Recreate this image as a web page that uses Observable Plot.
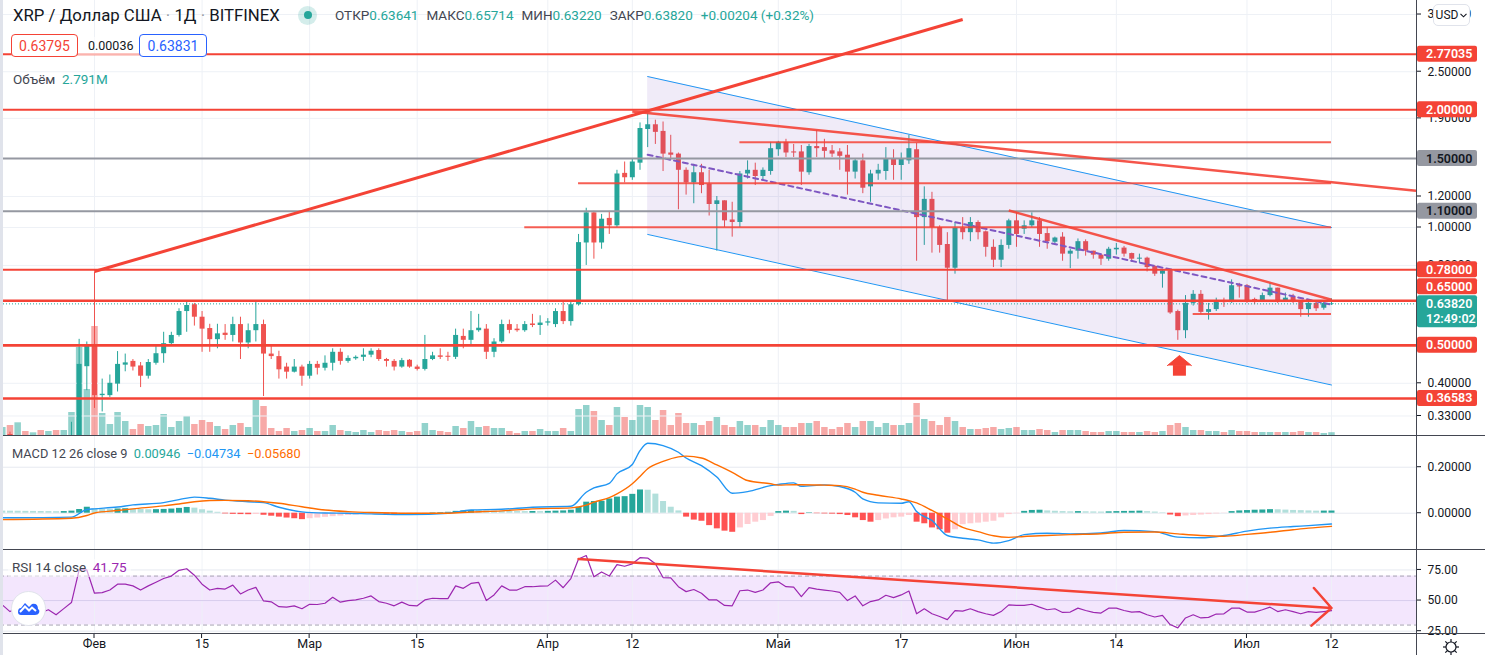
<!DOCTYPE html>
<html><head><meta charset="utf-8">
<script src="https://cdn.jsdelivr.net/npm/d3@7"></script>
<script src="https://cdn.jsdelivr.net/npm/@observablehq/plot@0.6"></script>
<style>
html,body{margin:0;padding:0;background:#fff;overflow:hidden;}
#root{position:relative;width:1485px;height:655px;font-family:Roboto,"Noto Sans",sans-serif;color:#131722;}
.layer{position:absolute;left:0;}
.t{position:absolute;white-space:nowrap;line-height:1;}
.k{color:#434651;}
.v{color:#26a69a;margin-right:8px;}
.sep{color:#9598a1;}
.ln{position:absolute;background:#434651;}
</style></head><body><div id="root"></div>
<script>
// ---------------- DATA ----------------
const firstDay = "2021-01-20", lastDay = "2021-07-12";
const open = [
0.275,0.296,0.262,0.275,0.270,0.276,0.268,0.271,0.256,0.270,0.285,0.441,
0.497,0.372,0.372,0.398,0.445,0.455,0.443,0.417,0.450,0.476,0.505,0.530,0.610,0.635,0.590,0.552,0.517,0.537,0.530,0.565,0.507,0.545,0.565,0.475,0.468,0.440,0.427,0.440,
0.417,0.447,0.437,0.450,0.480,0.455,0.462,0.466,0.472,0.485,0.460,0.455,0.440,0.458,0.440,0.434,0.460,0.470,0.469,0.466,0.527,0.515,0.545,0.550,0.480,0.510,0.565,0.550,0.545,0.567,0.562,
0.570,0.565,0.610,0.575,0.635,0.913,1.090,0.913,1.055,1.010,1.375,1.340,1.460,1.780,1.830,1.760,1.550,1.540,1.400,1.300,1.380,1.290,1.145,1.170,1.045,1.030,1.370,1.400,1.350,1.390,
1.580,1.650,1.560,1.560,1.380,1.610,1.600,1.570,1.560,1.530,1.385,1.480,1.270,1.370,1.390,1.500,1.440,1.480,1.580,1.060,1.180,1.000,0.905,0.787,0.996,0.970,1.030,0.975,0.890,0.825,0.900,
1.040,0.990,1.010,1.040,0.965,0.917,0.945,0.855,0.870,0.920,0.870,0.850,0.830,0.877,0.886,0.858,0.830,0.835,0.795,0.760,0.775,0.610,0.545,0.640,0.675,0.607,0.617,0.650,0.643,0.710,
0.710,0.655,0.650,0.670,0.700,0.650,0.665,0.645,0.617,0.640,0.622,0.63641];
const high = [
0.285,0.300,0.280,0.281,0.280,0.285,0.276,0.275,0.275,0.318,0.518,0.510,
0.770,0.410,0.420,0.482,0.475,0.460,0.452,0.460,0.500,0.540,0.540,0.620,0.645,0.640,0.610,0.566,0.566,0.565,0.590,0.590,0.567,0.645,0.580,0.500,0.483,0.450,0.460,0.445,
0.455,0.455,0.470,0.490,0.490,0.470,0.470,0.490,0.490,0.490,0.463,0.460,0.463,0.460,0.445,0.530,0.480,0.490,0.480,0.550,0.550,0.610,0.600,0.565,0.520,0.580,0.580,0.565,0.575,0.600,0.595,
0.585,0.620,0.645,0.645,0.960,1.120,1.100,1.080,1.100,1.400,1.470,1.500,1.850,1.960,1.880,1.860,1.720,1.550,1.420,1.450,1.450,1.400,1.200,1.170,1.160,1.390,1.480,1.460,1.420,1.650,
1.660,1.680,1.630,1.620,1.630,1.770,1.680,1.620,1.590,1.620,1.500,1.540,1.400,1.450,1.600,1.580,1.550,1.720,1.640,1.270,1.230,1.010,0.970,1.030,1.060,1.060,1.040,0.980,0.930,0.930,1.050,
1.100,1.040,1.090,1.060,1.000,0.945,0.970,0.880,0.935,0.930,0.870,0.855,0.890,0.910,0.895,0.860,0.855,0.840,0.800,0.780,0.780,0.615,0.670,0.690,0.690,0.640,0.660,0.660,0.735,0.720,
0.715,0.660,0.680,0.720,0.700,0.680,0.675,0.650,0.645,0.645,0.645,0.65714];
const low = [
0.265,0.250,0.245,0.265,0.265,0.265,0.260,0.250,0.250,0.265,0.280,0.383,
0.345,0.338,0.368,0.380,0.428,0.430,0.390,0.410,0.445,0.450,0.500,0.525,0.540,0.560,0.480,0.480,0.490,0.515,0.510,0.460,0.490,0.510,0.370,0.460,0.410,0.410,0.425,0.393,
0.410,0.420,0.430,0.430,0.445,0.450,0.458,0.455,0.465,0.455,0.440,0.430,0.437,0.437,0.430,0.430,0.457,0.460,0.455,0.460,0.490,0.500,0.540,0.460,0.465,0.505,0.535,0.540,0.540,0.555,0.530,
0.560,0.555,0.565,0.560,0.630,0.800,0.830,0.880,0.960,1.000,1.300,1.320,1.400,1.600,1.630,1.390,1.490,1.110,1.210,1.150,1.220,1.070,0.870,1.000,0.945,1.000,1.330,1.280,1.320,1.360,
1.520,1.510,1.510,1.280,1.360,1.510,1.500,1.510,1.400,1.210,1.330,1.220,1.160,1.320,1.320,1.320,1.320,1.450,0.820,0.900,0.860,0.860,0.650,0.760,0.930,0.920,0.930,0.840,0.790,0.790,0.880,
0.890,0.960,1.000,0.890,0.880,0.905,0.820,0.785,0.830,0.845,0.830,0.800,0.820,0.850,0.840,0.815,0.810,0.770,0.750,0.700,0.600,0.515,0.520,0.630,0.600,0.580,0.610,0.625,0.640,0.660,
0.640,0.635,0.645,0.665,0.640,0.645,0.640,0.590,0.590,0.610,0.615,0.63220];
const close = [
0.276,0.262,0.275,0.270,0.276,0.268,0.271,0.256,0.270,0.285,0.447,0.497,
0.372,0.375,0.400,0.447,0.451,0.440,0.417,0.452,0.476,0.505,0.530,0.610,0.632,0.590,0.550,0.517,0.535,0.530,0.565,0.507,0.545,0.565,0.475,0.468,0.433,0.427,0.440,0.417,
0.447,0.437,0.450,0.480,0.455,0.463,0.466,0.472,0.483,0.460,0.455,0.440,0.457,0.440,0.434,0.460,0.470,0.466,0.466,0.530,0.515,0.545,0.553,0.480,0.510,0.565,0.546,0.545,0.565,0.562,0.570,
0.574,0.610,0.575,0.635,0.915,1.090,0.913,1.050,1.010,1.370,1.340,1.470,1.790,1.830,1.750,1.540,1.530,1.400,1.300,1.380,1.280,1.145,1.170,1.040,1.030,1.370,1.400,1.350,1.400,1.590,
1.650,1.550,1.550,1.385,1.610,1.590,1.565,1.540,1.520,1.385,1.480,1.260,1.370,1.400,1.500,1.440,1.500,1.590,1.060,1.180,1.000,0.900,0.787,0.996,0.970,1.030,0.970,0.890,0.825,0.900,1.040,
0.960,1.010,1.040,0.960,0.920,0.940,0.855,0.870,0.920,0.870,0.850,0.830,0.880,0.885,0.855,0.830,0.835,0.790,0.760,0.775,0.605,0.545,0.640,0.675,0.607,0.617,0.645,0.643,0.710,0.705,
0.647,0.650,0.670,0.700,0.647,0.660,0.645,0.617,0.640,0.620,0.640,0.63820];
// volume, millions
const volume = [
8,10,12.7,4,2.7,5,4,5,5,23,88,46,
109,22,11,23,14,6,11,9,10,21,8,14,19,11,15,13,9,6,10,12,8,35,29,7,4,7,4,5,
7,4,4,10,5,4,3,5,3,5,4,5,4,3,4,12,5,4,3,9,7,14,8,9,7,7,4,2,4,4,6,
4,4,7,4,26,30,24,15,10,28,18,15,30,28,15,25,10,22,12,12,10,14,18,10,8,14,10,10,8,15,
10,8,8,12,12,14,8,6,8,12,8,14,14,8,12,10,10,12,32,16,14,10,18,14,8,6,6,7,8,6,7,
8,5,5,6,5,3,5,5,5,4,3,3,4,4,3,3,3,4,3,4,10,12,8,5,5,4,4,3,5,4,
4,3,3,3,3,3,3,4,3,3,2,2.791];
const rsi = [
46.5,41,44,44,43,40,42.5,38.4,43.4,48.4,75,75,
56,56.5,58.6,63.4,63.4,62,58.6,62,65,68,70,74.7,76,70.7,63.4,58.6,60,59.4,62.6,55.4,58.6,60.8,49.7,49,45,44.6,45.7,43.3,
47,46.8,47.8,52.7,48.7,50,50.5,51.9,53.8,49.2,47.8,45.7,48.7,46,45.7,50.5,51.9,51.6,51.6,62,60,64,64.8,50,54.6,62,58.6,58.6,61.3,61.3,61.8,
62,66.7,60.5,68,84,86.8,69.4,73.4,70,79.3,78,80,85,84.7,80,68.8,68.5,61.3,57.3,59,56,50.5,50.5,46,45.7,58,58.6,56.7,58.6,64.5,
65.3,61.3,61,53.2,60.5,59.4,58.6,57.8,56.7,50,53.8,45.7,49.2,50.5,54.3,52.4,54.6,57.8,39.2,43.3,39.2,37,34.4,41.7,41.4,43.3,41,39.2,37.9,41,46.5,
46,46,47,44.6,42.5,43.3,40.3,40.6,43.8,41.9,40.3,39.8,43.8,43.8,41.9,40.6,41,38.4,36.6,37.9,30.4,27.7,35.8,38.4,35.8,36.3,39,39.2,43.8,43.8,
40.6,40.6,42.5,44.6,41,42.5,41,39.2,41,40.3,41,41.75];
const macdHist = [
0.0090,0.0088,0.0085,0.0080,0.0077,0.0073,0.0070,0.0065,0.0072,0.0090,0.0160,0.0260,
0.0190,0.0175,0.0165,0.0185,0.0195,0.0175,0.0160,0.0150,0.0155,0.0165,0.0180,0.0210,0.0250,0.0220,0.0150,0.0090,0.0040,-0.0030,-0.0050,-0.0060,-0.0065,-0.0055,-0.0090,-0.0130,-0.0170,-0.0210,-0.0240,-0.0280,
-0.0240,-0.0210,-0.0180,-0.0150,-0.0125,-0.0100,-0.0080,-0.0060,-0.0050,-0.0045,-0.0050,-0.0060,-0.0050,-0.0045,-0.0035,-0.0010,0.0020,0.0030,0.0040,0.0080,0.0100,0.0120,0.0115,0.0095,0.0085,0.0080,0.0078,0.0072,0.0070,0.0075,0.0070,
0.0080,0.0090,0.0100,0.0130,0.0260,0.0480,0.0510,0.0520,0.0620,0.0700,0.0720,0.0820,0.1010,0.1000,0.0830,0.0510,0.0260,0.0100,-0.0170,-0.0300,-0.0350,-0.0540,-0.0680,-0.0780,-0.0830,-0.0640,-0.0490,-0.0390,-0.0320,-0.0140,
0.0070,0.0090,0.0080,-0.0060,0.0020,-0.0020,-0.0030,-0.0040,-0.0060,-0.0100,-0.0200,-0.0320,-0.0390,-0.0320,-0.0250,-0.0200,-0.0170,-0.0100,-0.0390,-0.0460,-0.0640,-0.0720,-0.0870,-0.0720,-0.0500,-0.0460,-0.0430,-0.0390,-0.0350,-0.0200,-0.0060,
-0.0020,0.0080,0.0120,0.0130,0.0100,0.0085,0.0070,0.0060,0.0070,0.0062,0.0055,0.0050,0.0060,0.0070,0.0078,0.0082,0.0090,0.0070,0.0050,0.0020,-0.0080,-0.0150,-0.0120,-0.0100,-0.0080,-0.0060,-0.0030,-0.0010,0.0070,0.0100,
0.0115,0.0130,0.0140,0.0155,0.0150,0.0135,0.0120,0.0112,0.0100,0.0090,0.0092,0.00946];
const macdDates = ["2021-01-20","2021-01-29","2021-01-31","2021-02-01","2021-02-04","2021-02-06","2021-02-10","2021-02-12","2021-02-14","2021-02-16","2021-02-18","2021-02-21","2021-02-23","2021-02-25","2021-02-28","2021-03-03","2021-03-06","2021-03-09","2021-03-14","2021-03-19","2021-03-22","2021-03-26","2021-03-30","2021-04-04","2021-04-06","2021-04-07","2021-04-09","2021-04-10","2021-04-12","2021-04-13","2021-04-14","2021-04-16","2021-04-18","2021-04-19","2021-04-21","2021-04-23","2021-04-25","2021-04-27","2021-04-30","2021-05-01","2021-05-03","2021-05-04","2021-05-07","2021-05-09","2021-05-11","2021-05-12","2021-05-14","2021-05-17","2021-05-18","2021-05-19","2021-05-21","2021-05-23","2021-05-25","2021-05-27","2021-05-29","2021-05-31","2021-06-02","2021-06-05","2021-06-08","2021-06-12","2021-06-15","2021-06-19","2021-06-22","2021-06-25","2021-06-28","2021-07-01","2021-07-04","2021-07-07","2021-07-09","2021-07-12"];
const macdLine = [-0.020,-0.017,0.016,0.019,0.027,0.036,0.046,0.059,0.070,0.065,0.057,0.050,0.046,0.026,0.006,0.001,0.000,-0.003,-0.006,0.000,0.014,0.017,0.026,0.030,0.091,0.110,0.130,0.171,0.212,0.272,0.304,0.294,0.265,0.240,0.207,0.157,0.087,0.094,0.120,0.125,0.132,0.117,0.123,0.116,0.091,0.062,0.045,0.043,0.050,0.007,-0.032,-0.097,-0.109,-0.116,-0.130,-0.119,-0.093,-0.087,-0.090,-0.086,-0.075,-0.080,-0.104,-0.107,-0.097,-0.078,-0.065,-0.058,-0.054,-0.047];
const signalLine = [-0.028,-0.022,-0.010,0.001,0.012,0.019,0.032,0.040,0.050,0.055,0.056,0.054,0.050,0.043,0.028,0.014,0.007,0.003,0.000,0.000,0.005,0.010,0.019,0.023,0.035,0.048,0.068,0.084,0.128,0.160,0.193,0.225,0.245,0.248,0.240,0.210,0.178,0.142,0.128,0.122,0.124,0.124,0.122,0.120,0.105,0.091,0.078,0.062,0.055,0.045,0.012,-0.025,-0.062,-0.080,-0.098,-0.105,-0.101,-0.097,-0.093,-0.089,-0.083,-0.082,-0.090,-0.097,-0.100,-0.092,-0.083,-0.072,-0.065,-0.057];

// tick labels
const xTickDates = ["2021-02-01","2021-02-15","2021-03-01","2021-03-15","2021-04-01","2021-04-12","2021-05-01","2021-05-17","2021-06-01","2021-06-14","2021-07-01","2021-07-12"];
const xTickLabels = ["Фев","15","Мар","15","Апр","12","Май","17","Июн","14","Июл","12"];
const priceGrid = [3.5,2.5,1.9,1.5,1.2,1.0,0.8,0.65,0.5,0.4,0.33];
const priceTickLabels = [3.5,2.5,1.9,1.2,1.0,0.8,0.4,0.33];   // the rest sit under the level labels
const macdTicks = [0.2,0.0];
const rsiTicks = [75,50,25];

// drawings (in date / price units)
const redLevelsThin = [2.77035, 2.0, 0.78];
const redLevelsThick = [0.65, 0.5, 0.36583];
const grayLevels = [1.5, 1.1];
const segStart = ["2021-04-26","2021-04-05","2021-03-29","2021-06-24"];
const segEnd   = ["2021-07-12","2021-07-12","2021-07-12","2021-07-12"];
const segPrice = [1.65, 1.298, 1.002, 0.601];
const trendStart = ["2021-02-01","2021-04-12","2021-05-31"];
const trendEnd   = ["2021-05-25","2021-07-23","2021-07-12"];
const trendP1 = [0.772, 1.979, 1.105];
const trendP2 = [3.40, 1.241, 0.654];
const channelDates = ["2021-04-14","2021-07-12"];
const channelHi = [2.43, 1.0];
const channelLo = [0.96, 0.396];
const channelMid = [1.534, 0.635];
const arrowDate = "2021-06-22T05:00Z", arrowBase = 0.444, arrowFoot = 0.417;
const rsiTrendDates = ["2021-04-05","2021-07-12"], rsiTrendVals = [84, 43.9];
const lastPrice = 0.63820;

// ---------------- BUILD ----------------
const green="#26a69a", red="#ef5350", lineRed="#f44336", gridC="#eef1f6", txt="#131722";
const days = d3.utcDay.range(new Date(firstDay), d3.utcDay.offset(new Date(lastDay),1));
const candles = days.map((d,i)=>({date:d,o:open[i],h:high[i],l:low[i],c:close[i],v:volume[i]}));
const hist = days.map((d,i)=>{
  const v = macdHist[i], p = i>0 ? macdHist[i-1] : Infinity;
  const col = v>=0 ? (v>=p ? "#26a69a" : "#b2dfdb") : (v<p ? "#ff5252" : "#ffcdd2");
  return {date:d, v, col};
});
const macdData = macdDates.map((d,i)=>({date:new Date(d), m:macdLine[i], s:signalLine[i]}));
const rsiData = days.map((d,i)=>({date:d, r:rsi[i]}));
const xTicks = xTickDates.map((d,i)=>({date:new Date(d), label:xTickLabels[i]}));
const segs = segStart.map((d,i)=>({d1:new Date(d), d2:new Date(segEnd[i]), p:segPrice[i]}));
const trends = trendStart.map((d,i)=>({d1:new Date(d), d2:new Date(trendEnd[i]), p1:trendP1[i], p2:trendP2[i]}));
const channel = channelDates.map((d,i)=>({date:new Date(d), hi:channelHi[i], lo:channelLo[i], mid:channelMid[i]}));
const xDomain = [new Date(Date.UTC(2021,0,19,18,22)), new Date(Date.UTC(2021,6,23,4,41))];
const colorOf = d => d.c>=d.o ? green : red;
const band = [{a:xDomain[0], b:xDomain[1], lo:30, hi:70}];
const rsiTrend = [{d1:new Date(rsiTrendDates[0]), d2:new Date(rsiTrendDates[1]), v1:rsiTrendVals[0], v2:rsiTrendVals[1]}];
const arrowPt = [{date:new Date(arrowDate), base:arrowBase, foot:arrowFoot}];

const common = {width:1485, marginLeft:0, marginRight:68, color:{type:"identity"},
  style:{fontFamily:"Roboto, sans-serif", fontSize:"12px", background:"transparent", overflow:"hidden"}};
const xOpt = {type:"utc", domain:xDomain, axis:null};

function scaleFn(plot, name){
  const s = plot.scale(name);
  if (s && typeof s.apply === "function") return v=>s.apply(v);
  const ctor = s.type==="log"?d3.scaleLog:(s.type==="utc"?d3.scaleUtc:d3.scaleLinear);
  return ctor().domain(s.domain).range(s.range);
}
function rightTicks(plot, ticks){
  const y = scaleFn(plot,"y"); const g = d3.select(plot).append("g");
  ticks.forEach(t=>g.append("line").attr("x1",1417).attr("x2",1421).attr("y1",y(t)).attr("y2",y(t)).attr("stroke",txt));
  return g;
}
function labelBox(g, y, lines, bg, fg){
  const h = lines.length===1 ? 16 : 32;
  g.append("rect").attr("x",1417).attr("y",y-8).attr("width",60).attr("height",h).attr("rx",2).attr("fill",bg);
  lines.forEach((t,i)=>g.append("text").attr("x",1426).attr("y",y+i*15.5).attr("dy","0.36em").attr("text-anchor","start")
    .attr("fill",fg).attr("font-size",12.5).attr("font-weight",600).attr("font-family","Roboto, sans-serif").text(t));
}

const root = document.getElementById("root");
function place(el, top, z){ const w=document.createElement("div"); w.className="layer"; w.style.top=top+"px"; w.style.zIndex=z; w.appendChild(el); root.appendChild(w); return w; }

// volume layer
const volPlot = Plot.plot({...common, style:{...common.style, background:"#fff"}, height:436, marginTop:0, marginBottom:1,
  x:xOpt, y:{domain:[0,435], axis:null},
  marks:[
    Plot.ruleX(xTicks,{x:"date", stroke:gridC}),
    Plot.ruleX(candles,{x:"date", y1:0, y2:"v", stroke:colorOf, strokeOpacity:0.5, strokeWidth:6.5})
  ]});
place(volPlot,0,0);

// main price pane
let arrowHead;
try { arrowHead = Plot.vector(arrowPt, {x:"date", y:"base", length:10, r:12, shape:"spike", anchor:"start", fill:lineRed, stroke:lineRed, strokeWidth:1}); }
catch(e){ arrowHead = Plot.dot(arrowPt, {x:"date", y:"base", symbol:"triangle", r:7, fill:lineRed, dy:-4}); }
const mainMarks = [
  Plot.ruleY(priceGrid,{stroke:gridC}),
  Plot.ruleX(candles,{x:"date", y1:"l", y2:"h", stroke:colorOf, strokeWidth:1, clip:true}),
  Plot.ruleX(candles,{x:"date", y1:"o", y2:"c", stroke:colorOf, strokeWidth:5, clip:true}),
  Plot.areaY(channel,{x:"date", y1:"lo", y2:"hi", fill:"#673ab7", fillOpacity:0.1}),
  Plot.line(channel,{x:"date", y:"hi", stroke:"#2196f3", strokeWidth:1}),
  Plot.line(channel,{x:"date", y:"lo", stroke:"#2196f3", strokeWidth:1}),
  Plot.line(channel,{x:"date", y:"mid", stroke:"#7e57c2", strokeWidth:2, strokeDasharray:"5,4"}),
  Plot.ruleY(grayLevels,{stroke:"#9598a1", strokeWidth:2}),
  Plot.ruleY(redLevelsThin,{stroke:lineRed, strokeWidth:2}),
  Plot.ruleY(redLevelsThick,{stroke:lineRed, strokeWidth:2.6}),
  Plot.ruleY(segs,{y:"p", x1:"d1", x2:"d2", stroke:lineRed, strokeOpacity:0.85, strokeWidth:2}),
  Plot.link(trends.slice(0,1),{x1:"d1", x2:"d2", y1:"p1", y2:"p2", stroke:lineRed, strokeWidth:3}),
  Plot.link(trends.slice(1),{x1:"d1", x2:"d2", y1:"p1", y2:"p2", stroke:lineRed, strokeOpacity:0.9, strokeWidth:2.5}),
  Plot.ruleY([lastPrice],{stroke:green, strokeDasharray:"1,2", strokeWidth:1}),
  Plot.ruleX(arrowPt,{x:"date", y1:"foot", y2:"base", stroke:lineRed, strokeWidth:13}),
  arrowHead,
  Plot.text(priceTickLabels,{y:d=>d, text:d=>d.toFixed(5), frameAnchor:"right", textAnchor:"start", dx:10, fill:txt, fontSize:12})
];
const mainPlot = Plot.plot({...common, height:436, marginTop:0, marginBottom:0, x:xOpt,
  y:{type:"log", domain:[0.2925,3.801], axis:null}, marks:mainMarks});
place(mainPlot,0,1);
{
  const y = scaleFn(mainPlot,"y");
  const g = rightTicks(mainPlot, priceGrid);
  [2.77035,2.0,0.78,0.5,0.36583].forEach(p=>labelBox(g,y(p),[p.toFixed(5)],lineRed,"#fff"));
  labelBox(g,y(0.65)-14,["0.65000"],lineRed,"#fff");
  grayLevels.forEach(p=>labelBox(g,y(p),[p.toFixed(5)],"#9598a1",txt));
  labelBox(g,y(lastPrice),[lastPrice.toFixed(5),"12:49:02"],green,"#fff");
}

// MACD pane
const macdPlot = Plot.plot({...common, style:{...common.style, background:"#fff"}, height:113, marginTop:0, marginBottom:0, x:xOpt,
  y:{domain:[-0.1578,0.3335], axis:null},
  marks:[
    Plot.ruleX(xTicks,{x:"date", stroke:gridC}),
    Plot.ruleY(macdTicks,{stroke:"#e6e9f0"}),
    Plot.ruleX(hist,{x:"date", y1:0, y2:"v", stroke:"col", strokeWidth:6}),
    Plot.line(macdData,{x:"date", y:"m", stroke:"#2196f3", strokeWidth:1.4, curve:"monotone-x"}),
    Plot.line(macdData,{x:"date", y:"s", stroke:"#ff6d00", strokeWidth:1.4, curve:"monotone-x"}),
    Plot.text(macdTicks,{y:d=>d, text:d=>d.toFixed(5), frameAnchor:"right", textAnchor:"start", dx:10, fill:txt, fontSize:12})
  ]});
place(macdPlot,436,1);
rightTicks(macdPlot, macdTicks);

// RSI pane
const rsiPlot = Plot.plot({...common, style:{...common.style, background:"#fff"}, height:106, marginTop:0, marginBottom:22, x:xOpt,
  y:{domain:[23.1,91.7], axis:null},
  marks:[
    Plot.rect(band,{x1:"a", x2:"b", y1:"lo", y2:"hi", fill:"#f3e6fd"}),
    Plot.ruleX(xTicks,{x:"date", stroke:gridC, strokeOpacity:0.8}),
    Plot.ruleY([75,25],{stroke:"#e6e9f0"}),
    Plot.ruleY([50],{stroke:"#d8cdee"}),
    Plot.ruleY([70,30],{stroke:"#a7a3b3", strokeDasharray:"4,3"}),
    Plot.line(rsiData,{x:"date", y:"r", stroke:"#9c27b0", strokeWidth:1.2}),
    Plot.arrow(rsiTrend,{x1:"d1", x2:"d2", y1:"v1", y2:"v2", stroke:lineRed, strokeWidth:2.5, headLength:16, headAngle:90}),
    Plot.text(rsiTicks,{y:d=>d, text:d=>d.toFixed(2), frameAnchor:"right", textAnchor:"start", dx:10, fill:txt, fontSize:12}),
    Plot.text(xTicks,{x:"date", text:"label", frameAnchor:"bottom", dy:14, fill:txt, fontSize:12.5})
  ]});
place(rsiPlot,549,1);
{
  rightTicks(rsiPlot, rsiTicks);
  const x = scaleFn(rsiPlot,"x"); const g = d3.select(rsiPlot).append("g");
  xTicks.forEach(t=>g.append("line").attr("x1",x(t.date)).attr("x2",x(t.date)).attr("y1",84).attr("y2",89).attr("stroke",txt));
}

// ---------------- overlays (text / chrome) ----------------
const ov = document.createElement("div"); ov.className="layer"; ov.style.top="0"; ov.style.zIndex=5; ov.style.width="1485px"; ov.style.height="655px";
ov.innerHTML = `
<div class="ln" style="left:0;top:435px;width:1485px;height:1px"></div>
<div class="ln" style="left:0;top:549px;width:1485px;height:1px"></div>
<div class="ln" style="left:0;top:633px;width:1485px;height:1px"></div>
<div class="ln" style="left:1416px;top:0;width:1px;height:655px"></div>
<div style="position:absolute;left:0;top:0;width:3px;height:655px;background:#e0e3eb"></div>
<div class="t" style="left:13px;top:6.5px;font-size:16.8px;color:#131722">XRP / Доллар США <span class="sep">·</span> 1Д <span class="sep">·</span> BITFINEX</div>
<div style="position:absolute;left:298px;top:5.5px;width:19px;height:19px;border-radius:50%;background:rgba(38,166,154,0.2)"></div>
<div style="position:absolute;left:304px;top:11px;width:8px;height:8px;border-radius:50%;background:#26a69a"></div>
<div class="t" style="left:335px;top:8.5px;font-size:13.5px"><span class="k">ОТКР</span><span class="v">0.63641</span><span class="k">МАКС</span><span class="v">0.65714</span><span class="k">МИН</span><span class="v">0.63220</span><span class="k">ЗАКР</span><span class="v">0.63820</span><span class="v">+0.00204 (+0.32%)</span></div>
<div style="position:absolute;left:78px;top:37px;width:61px;height:18px;background:rgba(255,255,255,0.6)"></div>
<div class="t" style="left:11px;top:34px;width:67px;height:23px;box-sizing:border-box;border:1px solid #f44336;border-radius:4px;background:#fff;color:#f44336;font-size:14px;display:flex;align-items:center;justify-content:center">0.63795</div>
<div class="t" style="left:88px;top:39.5px;font-size:12.5px;color:#131722">0.00036</div>
<div class="t" style="left:139px;top:34px;width:68px;height:23px;box-sizing:border-box;border:1px solid #2962ff;border-radius:4px;background:#fff;color:#2962ff;font-size:14px;display:flex;align-items:center;justify-content:center">0.63831</div>
<div class="t" style="left:13px;top:72.5px;font-size:13.5px"><span class="k">Объём</span>&nbsp; <span style="color:#26a69a">2.791M</span></div>
<div class="t" style="left:12px;top:447.5px;font-size:12.8px"><span class="k">MACD 12 26 close 9</span>&nbsp; <span style="color:#26a69a">0.00946</span>&nbsp; <span style="color:#2196f3">−0.04734</span>&nbsp; <span style="color:#ff6d00">−0.05680</span></div>
<div class="t" style="left:8px;top:559px;padding:2px 4px;font-size:13.5px;background:rgba(255,255,255,0.55)"><span class="k">RSI 14 close</span>&nbsp; <span style="color:#9c27b0">41.75</span></div>
<div class="t" style="left:1433px;top:4px;width:37px;height:22px;box-sizing:border-box;border:1px solid #e0e3eb;border-radius:5px;background:#fff;font-size:12px;color:#131722;display:flex;align-items:center;justify-content:center;gap:2px">USD<svg width="7" height="5" viewBox="0 0 7 5"><path d="M0.5 0.8 L3.5 3.8 L6.5 0.8" fill="none" stroke="#131722" stroke-width="1.1"/></svg></div>
<div style="position:absolute;left:10.5px;top:590.5px;width:35px;height:35px;box-sizing:border-box;border-radius:50%;background:#fff;border:1px solid #e0e3eb;display:flex;align-items:center;justify-content:center">
<svg width="24" height="16" viewBox="0 0 24 16"><path d="M2 12 Q2 8 5 8 L9 3 L13 7 L16 4 Q22 3 22 9 Q24 10 23 13 Q22 15 19 15 L5 15 Q2 15 2 12Z" fill="#2962ff"/><path d="M4 12 L9 6.5 L13 10.5 L16 7.5 L20 11" fill="none" stroke="#fff" stroke-width="2"/></svg></div>
<svg style="position:absolute;left:1442px;top:638px" width="18" height="18" viewBox="0 0 18 18"><circle cx="9" cy="9" r="5" fill="none" stroke="#131722" stroke-width="1.2"/>
<g stroke="#131722" stroke-width="1.2"><line x1="9" y1="1" x2="9" y2="4"/><line x1="9" y1="14" x2="9" y2="17"/><line x1="1" y1="9" x2="4" y2="9"/><line x1="14" y1="9" x2="17" y2="9"/><line x1="3.3" y1="3.3" x2="5.4" y2="5.4"/><line x1="12.6" y1="12.6" x2="14.7" y2="14.7"/><line x1="3.3" y1="14.7" x2="5.4" y2="12.6"/><line x1="12.6" y1="5.4" x2="14.7" y2="3.3"/></g></svg>
`;
root.appendChild(ov);
</script></body></html>
